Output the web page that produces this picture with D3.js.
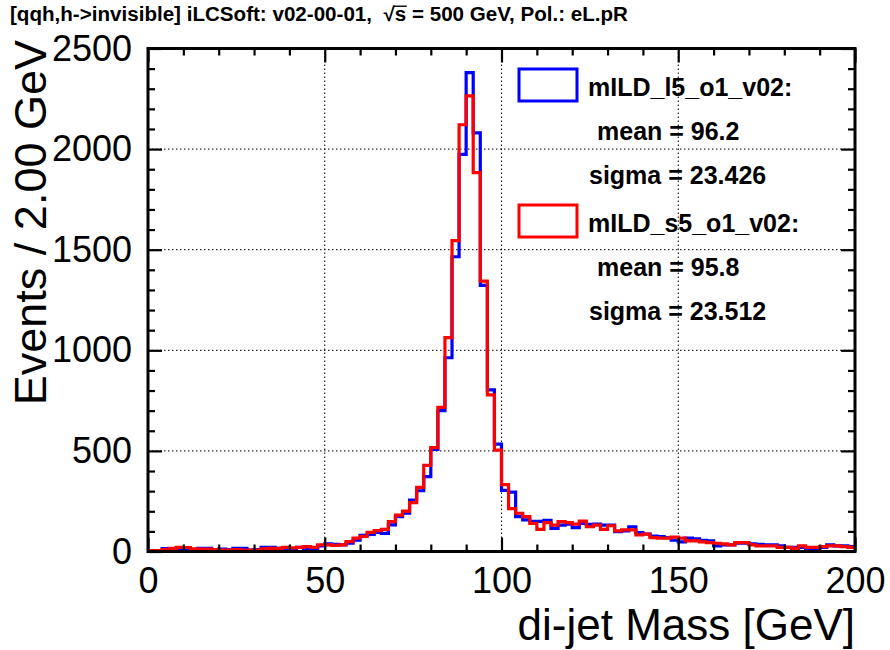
<!DOCTYPE html>
<html><head><meta charset="utf-8">
<script src="https://cdn.jsdelivr.net/npm/d3@7"></script>
<style>body{margin:0;background:#fff}svg{display:block}text{font-family:"Liberation Sans",Arial,Helvetica,sans-serif}</style>
</head><body><svg id="c" width="890" height="650"></svg>
<script>
// 100 bins of 2 GeV, 0..200
const binEdgesStart = 0, binWidth = 2, nBins = 100;
const l5_values = [5,5,15,10,16,10,10,16,16,5,12,10,16,16,7,10,21,21,16,16,10,21,16,10,28,38,36,33,
  41,56,80,85,95,90,132,173,190,256,302,372,508,700,963,1465,1974,2380,2081,1323,803,534,
  304,295,173,157,150,150,155,115,131,136,119,140,135,136,131,131,99,103,123,94,
  87,77,74,69,56,48,66,63,56,53,28,33,33,41,41,38,36,33,33,28,21,21,21,11,11,21,33,28,28,24];
const s5_values = [5,5,10,16,21,20,13,12,12,10,7,7,10,7,7,7,13,16,16,21,18,21,24,21,33,33,30,33,
  49,66,75,95,104,110,148,181,201,243,319,428,516,716,1063,1545,2121,2265,1883,1344,778,504,
  332,213,190,173,140,110,144,131,148,144,136,151,123,131,110,128,103,107,107,82,
  86,69,66,66,71,66,53,53,48,44,41,38,33,44,44,33,28,28,28,21,21,16,28,21,21,24,28,28,24,21];
const series = [
  {name:"mILD_l5_o1_v02:", mean:"96.2", sigma:"23.426", color:"#0000ff", values:l5_values},
  {name:"mILD_s5_o1_v02:", mean:"95.8", sigma:"23.512", color:"#ff0000", values:s5_values}
];
const xMajor = [0,50,100,150,200];
const yMajor = [0,500,1000,1500,2000,2500];
const xTitle = "di-jet Mass [GeV]";
const yTitle = "Events / 2.00 GeV";
const titlePre = "[qqh,h->invisible] iLCSoft: v02-00-01,  √";
const titleS = "s";
const titlePost = " = 500 GeV, Pol.: eL.pR";

const svg = d3.select("#c");
const L=148, R=855, T=48.5, B=551.5;
const x = d3.scaleLinear().domain([0,200]).range([L,R]);
const y = d3.scaleLinear().domain([0,2500]).range([B,T]);

// title
const title = svg.append("text").attr("x",10).attr("y",21).attr("font-size",19.5).attr("font-weight","bold")
  .attr("style","white-space:pre").attr("xml:space","preserve")
  .attr("textLength",618).attr("lengthAdjust","spacingAndGlyphs");
title.append("tspan").text(titlePre);
title.append("tspan").text(titleS);
title.append("tspan").text(titlePost);
try {
  const tn = title.node();
  const ext = tn.getExtentOfChar(titlePre.length);
  const extR = tn.getExtentOfChar(titlePre.length-1);
  svg.append("line").attr("x1",extR.x+extR.width-1.5).attr("x2",ext.x+ext.width+0.5).attr("y1",ext.y+3.2).attr("y2",ext.y+3.2)
    .attr("stroke","#000").attr("stroke-width",1.4);
} catch(e){}

// grid
const g = svg.append("g");
g.selectAll(".gx").data(xMajor.filter(v=>v>0&&v<200)).join("line")
  .attr("x1",d=>x(d)).attr("x2",d=>x(d)).attr("y1",T).attr("y2",B)
  .attr("stroke","#000").attr("stroke-width",1).attr("stroke-dasharray","1.5,2.5");
g.selectAll(".gy").data(yMajor.filter(v=>v>0&&v<2500)).join("line")
  .attr("x1",L).attr("x2",R).attr("y1",d=>y(d)).attr("y2",d=>y(d))
  .attr("stroke","#000").attr("stroke-width",1).attr("stroke-dasharray","1.5,2.5");

// histograms
function stepPath(vals){
  const pts=[];
  vals.forEach((v,i)=>{ const x0=binEdgesStart+i*binWidth; pts.push([x(x0),y(v)]); pts.push([x(x0+binWidth),y(v)]); });
  return d3.line()(pts);
}
series.forEach(s=>{
  svg.append("path").attr("d",stepPath(s.values)).attr("fill","none")
    .attr("stroke",s.color).attr("stroke-width",3.2).attr("stroke-linejoin","miter");
});

// axes
function styleAxis(sel){ sel.select(".domain").remove(); sel.selectAll("line").attr("stroke","#000").attr("stroke-width",2.2);
  sel.selectAll("text").attr("font-size",36).attr("fill","#000").attr("font-family","Liberation Sans, Arial, sans-serif"); }
const xMinor = d3.range(0,201,10).filter(v=>v%50!==0);
const yMinor = d3.range(0,2501,100).filter(v=>v%500!==0);
const fmt = d3.format("d");
svg.append("g").attr("transform",`translate(0,${B})`).call(d3.axisBottom(x).tickValues(xMajor).tickFormat(fmt).tickSizeInner(-14).tickSizeOuter(0).tickPadding(16)).call(styleAxis);
svg.append("g").attr("transform",`translate(0,${B})`).call(d3.axisBottom(x).tickValues(xMinor).tickSizeInner(-7).tickSizeOuter(0).tickFormat("")).call(styleAxis);
svg.append("g").attr("transform",`translate(0,${T})`).call(d3.axisTop(x).tickValues(xMajor).tickSizeInner(-14).tickSizeOuter(0).tickFormat("")).call(styleAxis);
svg.append("g").attr("transform",`translate(0,${T})`).call(d3.axisTop(x).tickValues(xMinor).tickSizeInner(-7).tickSizeOuter(0).tickFormat("")).call(styleAxis);
svg.append("g").attr("transform",`translate(${L},0)`).call(d3.axisLeft(y).tickValues(yMajor).tickFormat(fmt).tickSizeInner(-14).tickSizeOuter(0).tickPadding(16)).call(styleAxis);
svg.append("g").attr("transform",`translate(${L},0)`).call(d3.axisLeft(y).tickValues(yMinor).tickSizeInner(-7).tickSizeOuter(0).tickFormat("")).call(styleAxis);
svg.append("g").attr("transform",`translate(${R},0)`).call(d3.axisRight(y).tickValues(yMajor).tickSizeInner(-14).tickSizeOuter(0).tickFormat("")).call(styleAxis);
svg.append("g").attr("transform",`translate(${R},0)`).call(d3.axisRight(y).tickValues(yMinor).tickSizeInner(-7).tickSizeOuter(0).tickFormat("")).call(styleAxis);

// frame
svg.append("rect").attr("x",L).attr("y",T).attr("width",R-L).attr("height",B-T)
  .attr("fill","none").attr("stroke","#000").attr("stroke-width",3);

// axis titles
svg.append("text").attr("x",R).attr("y",640).attr("text-anchor","end").attr("font-size",44).text(xTitle);
svg.append("text").attr("transform","translate(46,40) rotate(-90)").attr("text-anchor","end").attr("font-size",45).text(yTitle);

// legend
const leg = svg.append("g");
series.forEach((s,i)=>{
  const oy = i*136;
  leg.append("rect").attr("x",519).attr("y",69+oy).attr("width",58).attr("height",32)
    .attr("fill","#fff").attr("stroke",s.color).attr("stroke-width",3);
  leg.append("text").attr("x",588).attr("y",96+oy).attr("font-size",25).attr("font-weight","bold").text(s.name);
  leg.append("text").attr("x",597).attr("y",140+oy).attr("font-size",25).attr("font-weight","bold").text("mean = "+s.mean);
  leg.append("text").attr("x",589).attr("y",184+oy).attr("font-size",25).attr("font-weight","bold").text("sigma = "+s.sigma);
});
</script></body></html>
